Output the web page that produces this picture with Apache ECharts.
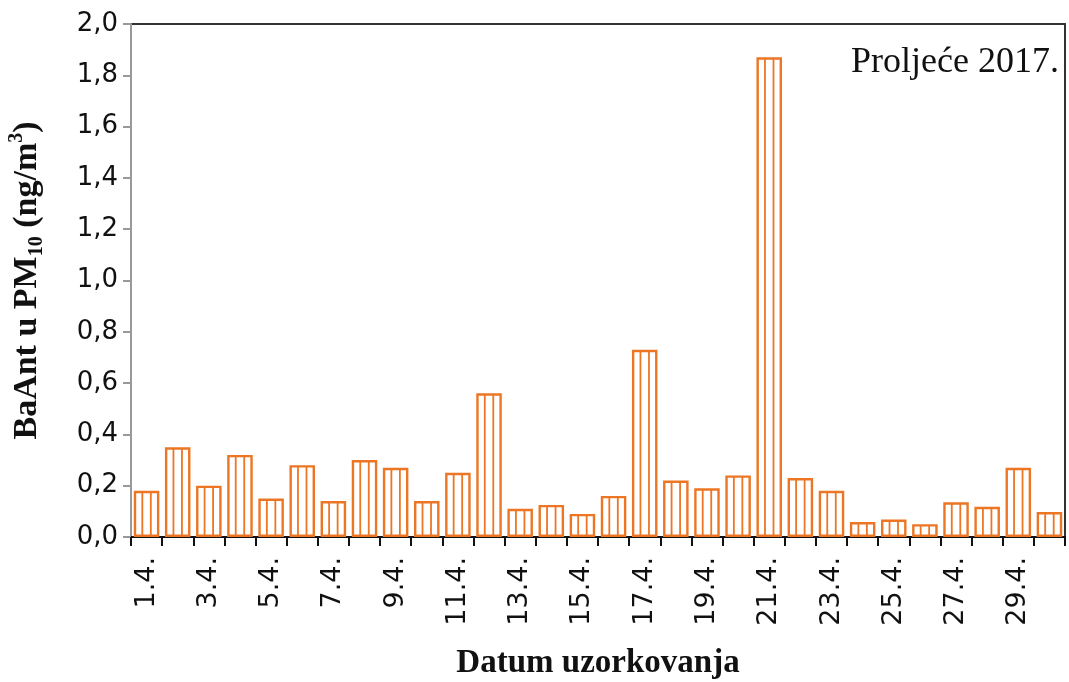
<!DOCTYPE html>
<html>
<head>
<meta charset="utf-8">
<script src="https://cdn.jsdelivr.net/npm/echarts@6/dist/echarts.min.js"></script>
<style>html,body{margin:0;padding:0;background:#fff;}#c{width:1069px;height:682px;}</style>
</head>
<body>
<div id="c"></div>
<script>
const categories = ['1.4.','2.4.','3.4.','4.4.','5.4.','6.4.','7.4.','8.4.','9.4.','10.4.',
  '11.4.','12.4.','13.4.','14.4.','15.4.','16.4.','17.4.','18.4.','19.4.','20.4.',
  '21.4.','22.4.','23.4.','24.4.','25.4.','26.4.','27.4.','28.4.','29.4.','30.4.'];
const values = [0.18,0.35,0.20,0.32,0.15,0.28,0.14,0.30,0.27,0.14,
  0.25,0.56,0.11,0.125,0.09,0.16,0.73,0.22,0.19,0.24,
  1.87,0.23,0.18,0.058,0.068,0.05,0.135,0.118,0.27,0.097];
const yTicks = {min: 0, max: 2, interval: 0.2};
const titleText = 'Proljeće 2017.';
const xName = 'Datum uzorkovanja';

const ORANGE = '#EC7624';
const GAP = 0.18;
const serif = '"Liberation Serif", "Times New Roman", serif';
const sans = '"DejaVu Sans", Verdana, sans-serif';

const chart = echarts.init(document.getElementById('c'));
chart.setOption({
  animation: false,
  backgroundColor: '#fff',
  title: {
    text: titleText, right: 5, top: 40,
    textStyle: {fontFamily: serif, fontSize: 36, fontWeight: 'normal', color: '#111'}
  },
  grid: {left: 131, right: 4, top: 24, bottom: 145, show: true, borderColor: '#333', borderWidth: 2,
    backgroundColor: 'transparent', containLabel: false, outerBoundsMode: 'none'},
  xAxis: {
    type: 'category', data: categories, boundaryGap: true,
    name: xName, nameLocation: 'middle', nameGap: 110,
    nameTextStyle: {fontFamily: serif, fontSize: 33, fontWeight: 'bold', color: '#111'},
    axisLine: {lineStyle: {color: '#111', width: 2}},
    axisTick: {show: true, interval: 0, length: 9, lineStyle: {color: '#111', width: 2}},
    axisLabel: {interval: 1, rotate: 90, fontFamily: sans, fontSize: 27, color: '#111', margin: 20}
  },
  yAxis: {
    type: 'value', min: yTicks.min, max: yTicks.max, interval: yTicks.interval,
    name: '{a|BaAnt u PM}{sub|10}{a| (ng/m}{sup|3}{a|)}',
    nameLocation: 'middle', nameRotate: 90, nameGap: 84,
    nameTextStyle: {
      rich: {
        a: {fontFamily: serif, fontSize: 34, fontWeight: 'bold', color: '#111', lineHeight: 40, verticalAlign: 'middle'},
        sub: {fontFamily: serif, fontSize: 20, fontWeight: 'bold', color: '#111', lineHeight: 20, verticalAlign: 'bottom'},
        sup: {fontFamily: serif, fontSize: 20, fontWeight: 'bold', color: '#111', lineHeight: 20, verticalAlign: 'top'}
      }
    },
    axisLine: {show: true, lineStyle: {color: '#999', width: 2}},
    axisTick: {show: true, length: 8, lineStyle: {color: '#999', width: 2}},
    splitLine: {show: false},
    axisLabel: {fontFamily: sans, fontSize: 26, color: '#111', margin: 13,
      formatter: v => v.toFixed(1).replace('.', ',')}
  },
  series: [
    {
      type: 'bar', data: values, barCategoryGap: (GAP * 100) + '%',
      itemStyle: {color: '#fff', borderColor: ORANGE, borderWidth: 2.4}
    },
    {
      type: 'custom',
      data: values.map((v, i) => [i, v]),
      z: 3,
      renderItem: function (params, api) {
        const top = api.coord([api.value(0), api.value(1)]);
        const base = api.coord([api.value(0), 0]);
        const bw = api.size([1, 0])[0] * (1 - GAP);
        const x0 = top[0] - bw / 2;
        const lines = [1, 2].map(k => ({
          type: 'line',
          shape: {x1: x0 + bw * k / 3, y1: top[1] + 1, x2: x0 + bw * k / 3, y2: base[1]},
          style: {stroke: ORANGE, lineWidth: 1.8}
        }));
        return {type: 'group', children: lines};
      }
    }
  ]
});
</script>
</body>
</html>
